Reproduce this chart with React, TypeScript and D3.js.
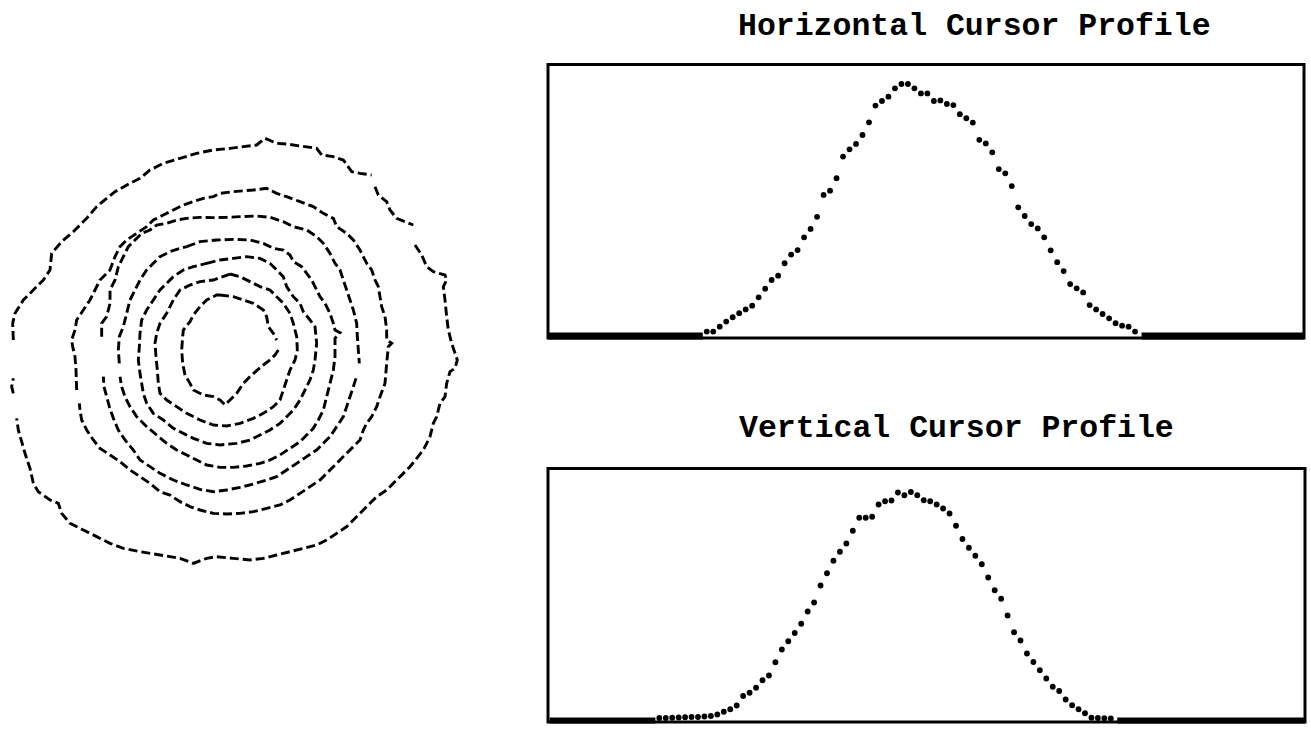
import React from "react";
import * as d3 from "d3";

type Pt = [number, number];

// Iso-intensity contours of the spot, in sensor-grid units (x: 0..1410, y: 0..1320).
// Each contour is a list of drawn runs; breaks between runs are where the trace drops out.
const contour1: Pt[][] = [
  [[40,630],[38,580],[45,550],[70,510],[100,480],[130,450],[150,420],[155,370],[185,335],[220,305],[260,265],[290,230],[320,205],[345,185],[390,160],[420,145],[450,120],[490,100],[540,85],[590,70],[640,60],[690,55],[730,50],[770,45],[795,25],[830,40],[860,42],[900,48],[950,55],[965,75],[1000,80],[1030,90],[1055,125],[1080,130],[1115,135]],
  [[1125,170],[1135,195],[1160,215],[1170,240],[1190,265],[1240,285]],
  [[1245,345],[1265,375],[1280,410],[1300,425],[1335,435],[1340,450],[1330,470],[1335,510],[1340,560],[1345,600],[1355,640],[1372,690],[1365,715],[1350,725],[1340,760],[1335,800],[1320,820],[1310,860],[1300,880],[1290,920],[1280,940],[1270,960],[1250,985],[1230,1010],[1200,1040],[1180,1060],[1160,1080],[1130,1100],[1110,1120],[1090,1140],[1060,1170],[1040,1190],[1010,1210],[980,1230],[950,1245],[910,1255],[870,1265],[830,1275],[790,1285],[750,1290],[700,1285],[650,1280],[620,1285],[580,1300],[540,1285],[480,1275],[420,1265],[370,1255],[330,1240],[290,1220],[250,1200],[210,1180],[185,1150],[175,1120],[150,1110],[115,1085],[100,1060],[90,1015],[75,970],[65,935],[55,900],[50,865]],
  [[40,790],[35,770],[40,745]],
];

const contour2: Pt[][] = [
  [[230,780],[228,720],[225,680],[218,650],[215,630],[225,600],[230,570],[250,540],[270,510],[285,480],[300,450],[330,420],[345,380],[360,350],[380,330],[410,310],[440,290],[460,270],[490,255],[520,240],[550,225],[580,215],[610,205],[640,200],[660,190],[700,185],[760,180],[800,175],[830,190],[860,200],[900,215],[940,230],[970,250],[1000,265],[1010,290],[1040,310],[1060,330],[1080,360],[1100,400],[1115,420],[1125,450],[1135,470],[1140,500],[1145,530],[1155,560],[1160,600],[1160,630],[1175,640],[1165,650],[1160,700],[1155,760],[1140,800],[1130,830],[1115,860],[1100,880],[1090,900],[1080,930],[1060,950],[1040,970],[1020,990],[1000,1010],[980,1030],[960,1050],[930,1070],[900,1090],[870,1110],[840,1125],[800,1135],[760,1145],[720,1150],[680,1152],[640,1150],[600,1140],[570,1130],[540,1115],[510,1095],[480,1085],[450,1060],[420,1040],[390,1020],[360,995],[330,975],[300,955],[280,930],[260,900],[245,870],[240,840],[238,820]],
];

const contour3: Pt[][] = [
  [[305,620],[305,580],[320,560],[330,520],[330,480],[345,450],[355,410],[370,380],[385,350],[405,330],[425,310],[450,300],[470,285],[500,280],[530,270],[560,265],[600,262],[640,263],[680,262],[720,260],[770,258],[810,262],[850,275],[880,290],[920,300],[950,320],[970,340],[990,370],[1005,400],[1020,420],[1030,450],[1040,480],[1050,510],[1060,540],[1070,580],[1072,620],[1075,660],[1078,700]],
  [[1068,745],[1060,770],[1050,800],[1040,830],[1030,860],[1010,890],[990,920],[970,940],[950,960],[920,980],[890,1000],[860,1020],[830,1040],[800,1050],[760,1062],[720,1072],[680,1080],[640,1085],[600,1078],[560,1065],[520,1050],[480,1030],[450,1010],[420,990],[400,960],[375,930],[355,900],[340,865],[328,830],[320,800],[312,770],[310,740]],
];

const contour4: Pt[][] = [
  [[560,350],[600,335],[650,330],[700,328],[750,330],[790,340],[820,355],[850,360],[870,375],[880,395],[905,410],[920,430],[935,450],[945,470],[960,500],[975,520],[990,550],[1000,580],[1005,600],[1020,608],[1005,625],[1005,680],[1000,720],[990,760],[980,800],[970,840],[955,870],[940,895],[920,915],[900,935],[870,955],[840,975],[810,990],[780,1000],[740,1008],[700,1012],[660,1012],[620,1005],[590,990],[560,975],[530,960],[500,940],[470,915],[440,890],[410,860],[390,830],[375,800],[365,770],[360,740]],
  [[358,700],[355,660],[358,620],[370,590],[380,550],[390,510],[405,480],[420,450],[440,420],[460,400],[480,380],[510,365],[540,355],[560,350]],
];

const contour5: Pt[][] = [
  [[620,400],[660,390],[700,385],[740,380],[780,385],[810,400],[830,420],[850,440],[860,470],[880,500],[900,520],[910,545],[930,570],[945,590],[950,640],[945,690],[940,720],[930,750],[915,780],[900,810],[880,840],[860,860],[840,880],[810,900],[780,915],[750,930],[710,940],[660,945],[620,940],[580,925],[550,910],[520,895],[490,870],[460,850],[440,820],[430,790],[425,760],[420,730],[415,690],[418,650],[420,610],[425,570],[440,540],[460,510],[480,480],[500,460],[520,440],[550,420],[580,410],[620,400]],
];

const contour6: Pt[][] = [
  [[690,432],[720,440],[750,455],[780,470],[810,480],[830,500],[850,520],[870,550],[880,580],[890,620],[892,660],[885,690],[870,720],[860,750],[850,780],[840,810],[820,830],[790,850],[760,865],[720,880],[680,888],[640,885],[600,870],[560,850],[530,830],[500,810],[480,790],[475,760],[472,720],[468,680],[465,640],[470,610],[480,580],[500,550],[520,510],[540,480],[570,465],[600,455],[640,450],[690,432]],
];

const contour7: Pt[][] = [
  [[660,495],[700,500],[730,510],[760,520],[790,540],[800,560],[805,590],[820,610],[830,630]],
  [[835,660],[825,675],[810,690],[790,705],[770,722],[750,740],[730,760],[710,790],[690,810],[675,825],[660,810],[640,800],[610,795],[580,780],[570,760],[555,735],[548,700],[545,660],[548,620],[550,600],[570,575],[580,555],[600,530],[620,510],[650,495],[660,495]],
];

const contourLevels: Pt[][][] = [contour1, contour2, contour3, contour4, contour5, contour6, contour7];

// Intensity along the horizontal cursor, one value per sampled column (0..100)
const horizontalProfile: number[] = [
  0,0,0,0,0,0,0,0,0,0,0,0,0,0,0,0,0,0,0,0,0,0,0,0,0,
  0.9,0.9,2.7,4.6,6.2,7.7,9.1,10.5,13.6,16.8,20.0,21.6,26.2,29.4,31.1,35.8,38.9,43.4,51.5,53.1,
  57.7,65.7,68.4,70.4,73.7,78.4,84.6,86.3,87.9,91.0,92.6,92.6,91.0,89.1,89.1,86.3,86.5,85.2,84.8,81.4,
  79.9,78.3,71.9,70.6,67.3,61.1,59.5,54.8,46.9,43.7,40.7,39.1,35.8,31.0,26.6,23.3,18.5,16.9,15.4,10.7,
  9.1,7.4,5.8,4.0,3.1,2.7,0.9,
  0,0,0,0,0,0,0,0,0,0,0,0,0,0,0,0,0,0,0,0,0,0,0,0,0,0,
];

// Intensity along the vertical cursor, one value per sampled row (0..100)
const verticalProfile: number[] = [
  0,0,0,0,0,0,0,0,0,0,0,0,0,0,0,0,0,
  0.4,0.4,0.5,0.6,0.7,0.8,0.8,1.0,1.2,1.8,2.9,3.9,5.4,9.2,10.5,12.5,15.5,17.4,22.7,27.8,31.1,
  34.4,38.1,43.0,46.6,53.4,58.3,63.3,66.9,70.2,75.3,80.5,80.5,80.9,85.8,87.1,87.4,90.6,89.5,90.8,89.5,
  87.5,87.1,85.8,84.2,82.2,77.3,72.0,68.5,65.3,61.9,56.6,51.5,48.1,41.4,34.7,31.4,26.2,22.8,19.5,16.2,
  12.9,11.2,7.8,5.5,3.9,2.3,0.5,0.4,0.3,0.2,
  0,0,0,0,0,0,0,0,0,0,0,0,0,0,0,0,0,0,0,0,0,0,0,0,0,0,0,0,0,0,
];

const horizontalTitle = "Horizontal Cursor Profile";
const verticalTitle = "Vertical Cursor Profile";

interface Panel {
  title: string;
  values: number[];
  box: { x0: number; x1: number; y0: number; y1: number };
  xRange: [number, number];
  yRange: [number, number];
  titleX: number;
  titleY: number;
}

const INK = "#000";
const FONT = "'Liberation Mono', 'DejaVu Sans Mono', monospace";

function ProfilePanel({ p }: { p: Panel }) {
  const x = d3.scaleLinear().domain([0, p.values.length - 1]).range(p.xRange);
  const y = d3.scaleLinear().domain([0, 100]).range(p.yRange);

  // runs of zero-valued samples render as a solid floor band merging with the frame
  const runs: [number, number][] = [];
  let start = -1;
  p.values.forEach((v, i) => {
    if (v === 0 && start < 0) start = i;
    if ((v !== 0 || i === p.values.length - 1) && start >= 0) {
      runs.push([start, v === 0 ? i : i - 1]);
      start = -1;
    }
  });
  const floorTop = y(0) - 1.5;
  const floorBottom = p.box.y1 + 1.5;

  return (
    <g>
      <text
        x={p.titleX}
        y={p.titleY}
        fontFamily={FONT}
        fontWeight="bold"
        fontSize={31.5}
        fill={INK}
      >
        {p.title}
      </text>
      <rect
        x={p.box.x0}
        y={p.box.y0}
        width={p.box.x1 - p.box.x0}
        height={p.box.y1 - p.box.y0}
        fill="none"
        stroke={INK}
        strokeWidth={3}
      />
      {runs.map(([a, b], k) => {
        const xa = Math.max(p.box.x0, x(a));
        const xb = Math.min(p.box.x1, x(b) + 2.5);
        return (
          <rect
            key={`z${k}`}
            x={xa}
            y={floorTop}
            width={xb - xa}
            height={floorBottom - floorTop}
            fill={INK}
          />
        );
      })}
      {p.values.map((v, i) =>
        v > 0 ? <circle key={i} cx={x(i)} cy={y(v)} r={2.9} fill={INK} /> : null
      )}
    </g>
  );
}

export default function App() {
  const gx = d3.scaleLinear().domain([0, 1410]).range([0, 470]);
  const gy = d3.scaleLinear().domain([0, 1320]).range([130, 570]);
  const contourLine = d3
    .line<Pt>()
    .x((d) => gx(d[0]))
    .y((d) => gy(d[1]));

  const panels: Panel[] = [
    {
      title: horizontalTitle,
      values: horizontalProfile,
      box: { x0: 548, x1: 1304, y0: 64.5, y1: 338 },
      xRange: [544.5, 1303.8],
      yRange: [334, 64],
      titleX: 738,
      titleY: 35,
    },
    {
      title: verticalTitle,
      values: verticalProfile,
      box: { x0: 548, x1: 1305, y0: 468.5, y1: 722 },
      xRange: [549.65, 1304.3],
      yRange: [719, 469],
      titleX: 739,
      titleY: 437,
    },
  ];

  return (
    <svg
      width={1311}
      height={744}
      viewBox="0 0 1311 744"
      style={{ position: "absolute", left: 0, top: 0, background: "#fff" }}
    >
      <rect width={1311} height={744} fill="#fff" />
      <g
        fill="none"
        stroke={INK}
        strokeWidth={2.9}
        strokeDasharray="9 4"
        strokeLinejoin="miter"
      >
        {contourLevels.map((level, li) =>
          level.map((run, ri) => <path key={`${li}-${ri}`} d={contourLine(run) ?? ""} />)
        )}
      </g>
      {panels.map((p) => (
        <ProfilePanel key={p.title} p={p} />
      ))}
    </svg>
  );
}
